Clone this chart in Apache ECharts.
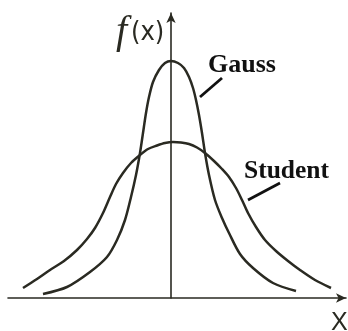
<!DOCTYPE html>
<html>
<head>
<meta charset="utf-8">
<script src="https://cdn.jsdelivr.net/npm/echarts@6/dist/echarts.min.js"></script>
<style>
  html, body { margin: 0; padding: 0; background: #fff; }
  #chart { width: 348px; height: 331px; }
</style>
</head>
<body>
<div id="chart"></div>
<script>
// points (x centred on the f(x) axis)
var gaussX = [-12.8, -10.4, -8.1, -6.4, -5.4, -4.6, -4.0, -3.5, -3.1, -2.8, -2.5, -2.2, -1.8, -1.2, -0.6, 0.0,
              0.7, 1.3, 1.8, 2.2, 2.5, 2.8, 3.1, 3.4, 3.8, 4.4, 5.1, 5.8, 6.9, 8.2, 10.2, 12.5];
var gaussY = [0.4, 1.1, 2.6, 4.1, 5.8, 7.8, 10.1, 12.3, 14.5, 16.5, 18.5, 20.1, 21.6, 22.8, 23.5, 23.7,
              23.5, 23.0, 22.1, 21.0, 19.8, 18.3, 16.5, 14.5, 12.3, 9.8, 8.0, 6.5, 4.4, 3.0, 1.5, 0.7];

var studentX = [-14.8, -13.4, -12.1, -10.7, -9.4, -8.4, -7.6, -6.8, -6.1, -5.5, -4.8, -4.0, -3.1, -2.3, -1.4, -0.6, 0.2,
                1.0, 1.8, 2.6, 3.4, 4.3, 5.1, 5.8, 6.5, 7.1, 7.7, 8.5, 9.4, 10.5, 11.7, 12.9, 14.4, 16.0];
var studentY = [1.0, 1.9, 2.8, 3.7, 4.8, 5.9, 7.0, 8.5, 10.1, 11.4, 12.5, 13.5, 14.3, 14.9, 15.25, 15.5, 15.6,
                15.55, 15.4, 15.05, 14.5, 13.7, 12.9, 12.1, 11.0, 9.8, 8.5, 7.1, 5.8, 4.7, 3.7, 2.8, 1.8, 1.0];

// leader lines from the labels to the curves
var gaussPointer = [[2.9, 20.1], [5.1, 22.0]];
var studentPointer = [[7.7, 9.8], [10.9, 11.5]];

var lineColor = '#2a2a22';

function pairs(xs, ys) {
  var out = [];
  for (var i = 0; i < xs.length; i++) out.push([xs[i], ys[i]]);
  return out;
}

function pointer(p) {
  return {
    silent: true,
    symbol: ['none', 'none'],
    label: { show: false },
    lineStyle: { color: '#111', width: 2.8, type: 'solid' },
    data: [[{ coord: p[0] }, { coord: p[1] }]]
  };
}

var chart = echarts.init(document.getElementById('chart'), null, { renderer: 'canvas' });

chart.setOption({
  animation: false,
  backgroundColor: '#ffffff',
  grid: { left: 8, right: 2, top: 13, bottom: 33 },
  xAxis: {
    type: 'value',
    min: -16.3,
    max: 17.5,
    axisLine: {
      lineStyle: { color: lineColor, width: 1.6 },
      symbol: ['none', 'arrow'],
      symbolSize: [7, 10]
    },
    axisTick: { show: false },
    axisLabel: { show: false },
    splitLine: { show: false }
  },
  yAxis: {
    type: 'value',
    min: 0,
    max: 28.5,
    axisLine: {
      onZero: true,
      lineStyle: { color: lineColor, width: 1.6 },
      symbol: ['none', 'arrow'],
      symbolSize: [7, 10]
    },
    axisTick: { show: false },
    axisLabel: { show: false },
    splitLine: { show: false }
  },
  graphic: [
    {
      type: 'text', left: 116, top: 12,
      style: { text: 'f', fontFamily: 'Liberation Serif', fontStyle: 'italic', fontSize: 40, fill: lineColor }
    },
    {
      type: 'text', left: 131, top: 19,
      style: { text: '(x)', fontFamily: 'DejaVu Sans Condensed', fontSize: 27, fill: lineColor }
    },
    {
      type: 'text', left: 208, top: 52,
      style: { text: 'Gauss', fontFamily: 'Liberation Serif', fontWeight: 'bold', fontSize: 26, fill: '#111' }
    },
    {
      type: 'text', left: 244, top: 158,
      style: { text: 'Student', fontFamily: 'Liberation Serif', fontWeight: 'bold', fontSize: 25.5, fill: '#111' }
    },
    {
      type: 'text', left: 331, top: 311,
      style: { text: 'X', fontFamily: 'Liberation Sans', fontSize: 25, fill: lineColor }
    }
  ],
  series: [
    {
      name: 'Gauss',
      type: 'line',
      data: pairs(gaussX, gaussY),
      smooth: 0.3,
      showSymbol: false,
      lineStyle: { color: lineColor, width: 2.5 },
      markLine: pointer(gaussPointer)
    },
    {
      name: 'Student',
      type: 'line',
      data: pairs(studentX, studentY),
      smooth: 0.3,
      showSymbol: false,
      lineStyle: { color: lineColor, width: 2.5 },
      markLine: pointer(studentPointer)
    }
  ]
});
</script>
</body>
</html>
